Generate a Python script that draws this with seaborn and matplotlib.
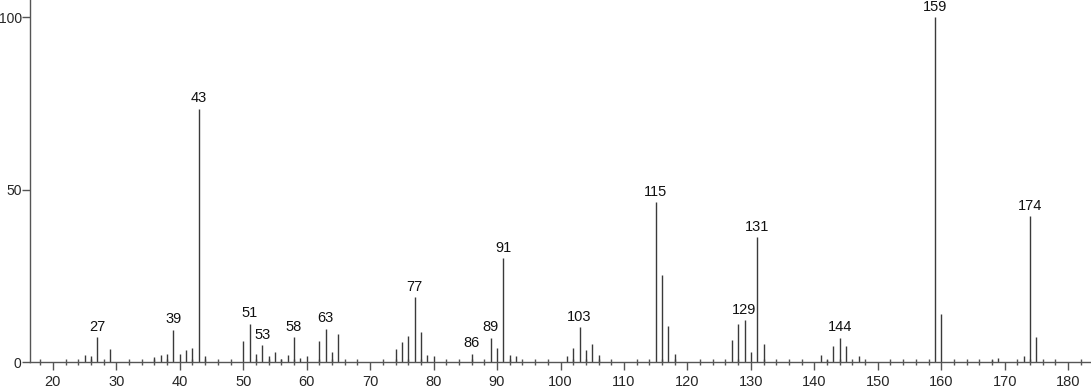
import matplotlib
matplotlib.use("Agg")
import matplotlib.pyplot as plt
import seaborn as sns
import numpy as np
from matplotlib.ticker import MultipleLocator

mz = [25, 26, 27, 29, 36, 37, 38, 39, 40, 41, 42, 43, 44,
      50, 51, 52, 53, 54, 55, 56, 57, 58, 59, 60, 62, 63, 64, 65,
      74, 75, 76, 77, 78, 79, 80, 86, 89, 90, 91, 92, 93,
      101, 102, 103, 104, 105, 106, 115, 116, 117, 118,
      127, 128, 129, 130, 131, 132, 141, 142, 143, 144, 145, 147,
      159, 160, 168, 169, 173, 174, 175]
intensity = [2.1, 1.7, 7.2, 3.8, 1.5, 2.1, 2.4, 9.3, 2.4, 3.5, 4.0, 73.5, 1.6,
             6.0, 11.1, 2.4, 4.9, 1.8, 3.0, 0.9, 2.1, 7.2, 1.2, 1.6, 6.0, 9.7, 3.0, 8.2,
             3.8, 5.8, 7.5, 18.8, 8.8, 2.1, 1.8, 2.4, 7.0, 4.0, 30.1, 2.1, 1.8,
             1.8, 4.0, 10.1, 3.5, 5.3, 2.1, 46.4, 25.2, 10.3, 2.4,
             6.3, 11.1, 12.1, 3.0, 36.2, 5.3, 2.1, 0.7, 4.7, 7.0, 4.7, 1.8,
             100.0, 14.0, 0.7, 1.2, 1.8, 42.3, 7.2]
labeled = [27, 39, 43, 51, 53, 58, 63, 77, 86, 89, 91, 103, 115, 129, 131, 144, 159, 174]
x_ticks = [20, 30, 40, 50, 60, 70, 80, 90, 100, 110, 120, 130, 140, 150, 160, 170, 180]
y_ticks = [0, 50, 100]

sns.set_style("ticks")
plt.rcParams['font.family'] = ['Liberation Sans', 'DejaVu Sans']

fig = plt.figure(figsize=(10.91, 3.87), dpi=100)
ax = fig.add_axes([30 / 1091, 1 - 362 / 387, 1 - 30 / 1091, 362 / 387])

ax.vlines(mz, 0, intensity, color='#3a3a3a', linewidth=1.0)
for m, v in zip(mz, intensity):
    if m in labeled:
        ax.text(m, v + 1.0, str(m), ha='center', va='bottom', fontsize=10.5, color='#111111')

ax.set_xlim(16.4, 183.6)
ax.set_ylim(0, 105)
ax.set_xticks(x_ticks)
ax.xaxis.set_minor_locator(MultipleLocator(2))
ax.set_yticks(y_ticks)
for s in ['top', 'right']:
    ax.spines[s].set_visible(False)
for s in ['left', 'bottom']:
    ax.spines[s].set_color('#555555')
    ax.spines[s].set_linewidth(1.0)
ax.tick_params(axis='x', which='major', direction='out', length=6, width=1.0, color='#555555', labelsize=10.5, pad=3)
ax.tick_params(axis='x', which='minor', direction='inout', length=4, width=1.0, color='#555555')
ax.tick_params(axis='y', which='major', direction='out', length=6, width=1.0, color='#555555', labelsize=10, pad=0)
ax.set_xlabel('')
ax.set_ylabel('')

fig.savefig('out.png', dpi=100)
